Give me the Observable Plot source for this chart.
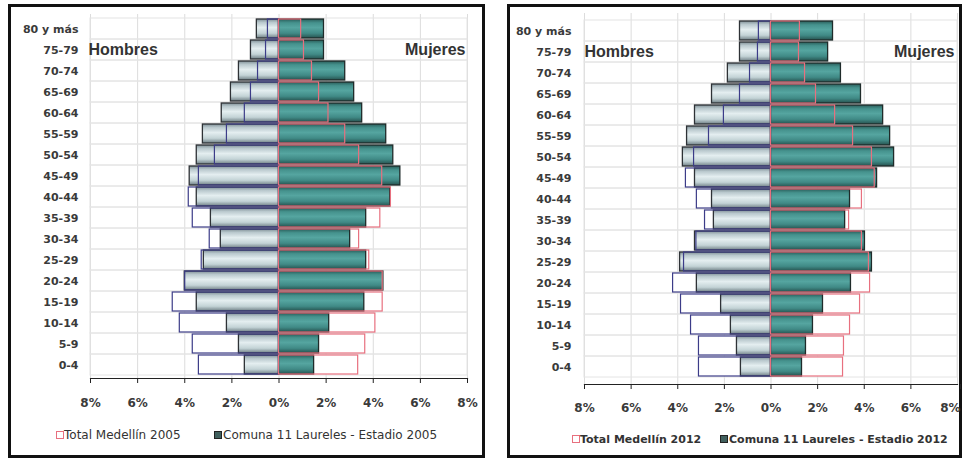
<!DOCTYPE html>
<html>
<head>
<meta charset="utf-8">
<script src="https://cdn.jsdelivr.net/npm/d3@7"></script>
<script src="https://cdn.jsdelivr.net/npm/@observablehq/plot@0.6"></script>
<style>
  html, body { margin: 0; padding: 0; background: #fff; }
  body { width: 964px; height: 460px; position: relative; overflow: hidden; }
  .panel { position: absolute; border: 3px solid #111; background: #fff; }
  .panel svg.plot { position: absolute; left: 0; top: 0; overflow: visible; }
  .leg { position: absolute; white-space: nowrap; transform: translateY(-50%); font-family: "DejaVu Sans", sans-serif; color: #333; }
  .sq { position: absolute; width: 6px; height: 6px; transform: translateY(-50%); }
</style>
</head>
<body>
<svg width="0" height="0" style="position:absolute">
  <defs>
    <linearGradient id="gMale" x1="0" y1="0" x2="0" y2="1">
      <stop offset="0" stop-color="#7f8f96"/>
      <stop offset="0.18" stop-color="#b9c8cd"/>
      <stop offset="0.45" stop-color="#e4eef0"/>
      <stop offset="0.75" stop-color="#c3d3d6"/>
      <stop offset="1" stop-color="#6e7e84"/>
    </linearGradient>
    <linearGradient id="gFemale" x1="0" y1="0" x2="0" y2="1">
      <stop offset="0" stop-color="#2a5d5a"/>
      <stop offset="0.2" stop-color="#45928d"/>
      <stop offset="0.45" stop-color="#55a5a0"/>
      <stop offset="0.75" stop-color="#408a86"/>
      <stop offset="1" stop-color="#26524f"/>
    </linearGradient>
  </defs>
</svg>
<div id="p2005" class="panel" style="left:8px; top:4px; width:471px; height:448px;"></div>
<div id="p2012" class="panel" style="left:507px; top:4px; width:449px; height:448px;"></div>
<script>
// ---- data (percent of population) ----
const ages = ["80 y más","75-79","70-74","65-69","60-64","55-59","50-54","45-49","40-44","35-39","30-34","25-29","20-24","15-19","10-14","5-9","0-4"];
const xTicks = [-8, -6, -4, -2, 0, 2, 4, 6, 8];

const comuna2005Hombres   = [0.94, 1.19, 1.70, 2.04, 2.43, 3.23, 3.49, 3.79, 3.49, 2.89, 2.47, 3.19, 4.00, 3.49, 2.21, 1.70, 1.45];
const comuna2005Mujeres   = [1.91, 1.91, 2.81, 3.19, 3.53, 4.55, 4.85, 5.15, 4.72, 3.70, 3.02, 3.70, 4.43, 3.62, 2.13, 1.70, 1.49];
const medellin2005Hombres = [0.47, 0.55, 0.89, 1.19, 1.45, 2.21, 2.72, 3.40, 3.83, 3.66, 2.94, 3.28, 3.98, 4.51, 4.21, 3.66, 3.40];
const medellin2005Mujeres = [0.94, 1.06, 1.40, 1.70, 2.10, 2.81, 3.40, 4.38, 4.75, 4.30, 3.40, 3.83, 4.40, 4.40, 4.09, 3.66, 3.36];

const comuna2012Hombres   = [1.33, 1.33, 1.85, 2.53, 3.26, 3.60, 3.78, 3.26, 2.53, 2.45, 3.26, 3.90, 3.18, 2.14, 1.72, 1.46, 1.29];
const comuna2012Mujeres   = [2.66, 2.45, 3.00, 3.86, 4.81, 5.11, 5.28, 4.55, 3.39, 3.18, 4.03, 4.33, 3.43, 2.23, 1.80, 1.50, 1.33];
const medellin2012Hombres = [0.52, 0.56, 0.90, 1.33, 2.02, 2.66, 3.30, 3.65, 3.18, 2.83, 3.20, 3.73, 4.20, 3.86, 3.43, 3.09, 3.09];
const medellin2012Mujeres = [1.24, 1.20, 1.46, 1.93, 2.75, 3.52, 4.33, 4.45, 3.90, 3.35, 3.90, 4.20, 4.25, 3.82, 3.39, 3.13, 3.09];

const legendTotal = ["Total Medellín 2005", "Total Medellín 2012"];
const legendComuna = ["Comuna 11 Laureles - Estadio 2005", "Comuna 11 Laureles - Estadio 2012"];

function pyramid(cfg) {
  const rows = ages.map((age, i) => ({
    age,
    comM: cfg.comM[i], comF: cfg.comF[i],
    medM: cfg.medM[i], medF: cfg.medF[i]
  }));
  const inset = {insetTop: 1, insetBottom: 1};
  const fmt = d => Math.abs(d) + "%";
  const xAxes = cfg.endLast
    ? [
        Plot.axisX({ticks: xTicks.slice(0, -1), tickFormat: fmt, tickSize: 5, tickPadding: cfg.xtp, label: null, fontSize: 12, stroke: "#222"}),
        Plot.axisX({ticks: xTicks.slice(-1), tickFormat: fmt, tickSize: 5, tickPadding: cfg.xtp, label: null, fontSize: 12, stroke: "#222", textAnchor: "end", dx: 3})
      ]
    : [Plot.axisX({ticks: xTicks, tickFormat: fmt, tickSize: 5, tickPadding: cfg.xtp, label: null, fontSize: 12, stroke: "#222"})];
  return Plot.plot({
    width: cfg.width, height: cfg.height,
    marginLeft: cfg.ml, marginRight: cfg.mr, marginTop: cfg.mt, marginBottom: cfg.mb,
    style: {fontFamily: "DejaVu Sans, sans-serif", fontSize: "11px", fontWeight: "bold", color: "#3a3a3a", background: "transparent"},
    x: {domain: [-8, 8]},
    y: {type: "band", domain: ages, padding: 0},
    marks: [
      Plot.gridX(xTicks, {stroke: "#dcdcdc", strokeOpacity: 1}),
      Plot.barX(ages, {x1: -8, x2: 8, y: d => d, fill: "none", stroke: "#e4e4e4"}),
      // Medellín white underlay
      Plot.barX(rows, {x1: 0, x2: d => -d.medM, y: "age", fill: "white", ...inset}),
      Plot.barX(rows, {x1: 0, x2: d => d.medF, y: "age", fill: "white", ...inset}),
      // Comuna bars
      Plot.barX(rows, {x1: 0, x2: d => -d.comM, y: "age", fill: "url(#gMale)", stroke: "#2e3236", strokeWidth: 1.3, ...inset}),
      Plot.barX(rows, {x1: 0, x2: d => d.comF, y: "age", fill: "url(#gFemale)", stroke: "#1f2b2a", strokeWidth: 1.3, ...inset}),
      // Medellín outlines
      Plot.barX(rows, {x1: 0, x2: d => -d.medM, y: "age", fill: "none", stroke: "#3c3c88", strokeWidth: 1.2, ...inset}),
      Plot.barX(rows, {x1: 0, x2: d => d.medF, y: "age", fill: "none", stroke: "#e8707f", strokeWidth: 1.2, ...inset}),
      Plot.text(["Hombres"], {x: -8, y: () => "75-79", text: d => d, textAnchor: "start", dx: cfg.hdx, fontSize: 16, fontWeight: "bold", fontFamily: "Liberation Sans, Arial, sans-serif", fill: "#333"}),
      Plot.text(["Mujeres"], {x: 8, y: () => "75-79", text: d => d, textAnchor: "end", dx: cfg.mdx, fontSize: 16, fontWeight: "bold", fontFamily: "Liberation Sans, Arial, sans-serif", fill: "#333"}),
      Plot.axisY({tickSize: 0, tickPadding: cfg.ytp, label: null, fontSize: 11}),
      ...xAxes,
      Plot.frame({anchor: "bottom", stroke: "#222", strokeWidth: 1.2})
    ]
  });
}

function build(id, cfg, idx) {
  const el = document.getElementById(id);
  const svg = pyramid(cfg);
  svg.classList.add("plot");
  el.appendChild(svg);
  const lg = cfg.legend;
  const s1 = document.createElement("span");
  s1.className = "sq";
  s1.style.cssText = `left:${lg.sq1}px; top:${lg.y}px; border:1px solid #e8707f; background:#fff;`;
  const t1 = document.createElement("span");
  t1.className = "leg";
  t1.textContent = legendTotal[idx];
  t1.style.cssText = `left:${lg.t1}px; top:${lg.y}px; font-size:${lg.fs}px; font-weight:${lg.fw};`;
  const s2 = document.createElement("span");
  s2.className = "sq";
  s2.style.cssText = `left:${lg.sq2}px; top:${lg.y}px; border:1px solid #222; background:#40605e;`;
  const t2 = document.createElement("span");
  t2.className = "leg";
  t2.textContent = legendComuna[idx];
  t2.style.cssText = `left:${lg.t2}px; top:${lg.y}px; font-size:${lg.fs}px; font-weight:${lg.fw};`;
  el.append(s1, t1, s2, t2);
}

build("p2005", {
  comM: comuna2005Hombres, comF: comuna2005Mujeres, medM: medellin2005Hombres, medF: medellin2005Mujeres,
  width: 471, height: 410, ml: 79, mr: 15, mt: 7, mb: 39, ytp: 12, xtp: 15, hdx: -2, mdx: -2, endLast: false,
  legend: {y: 428, sq1: 45, t1: 53, sq2: 203, t2: 212, fs: 12, fw: "normal"}
}, 0);

build("p2012", {
  comM: comuna2012Hombres, comF: comuna2012Mujeres, medM: medellin2012Hombres, medF: medellin2012Mujeres,
  width: 449, height: 412, ml: 74, mr: 2, mt: 6, mb: 35, ytp: 13, xtp: 14, hdx: 0, mdx: -3, endLast: true,
  legend: {y: 432, sq1: 62, t1: 70, sq2: 210, t2: 219, fs: 11, fw: "bold"}
}, 1);
</script>
</body>
</html>
